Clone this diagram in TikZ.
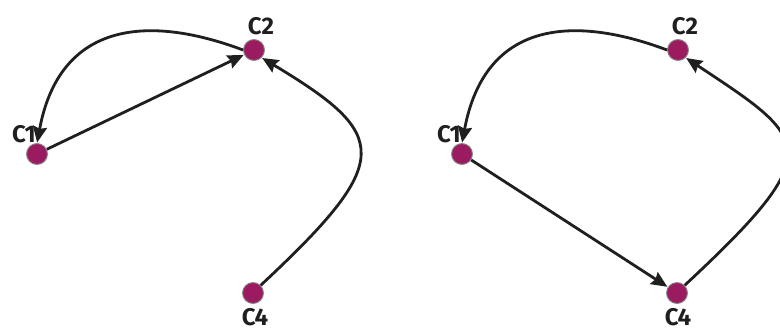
\documentclass[tikz,border=0pt]{standalone}
\usepackage{fontspec}
\setmainfont{Fira Sans}
\usetikzlibrary{arrows.meta}
\definecolor{cnode}{HTML}{9B1B60}
\tikzstyle{vert}=[circle, draw=black!45, line width=0.9pt, fill=cnode, inner sep=0pt, minimum size=21pt]
\tikzstyle{lab}=[font=\fontsize{24}{24}\selectfont\bfseries, text=black!88, inner sep=0pt, anchor=base]
\tikzset{edge/.style={line width=2.8pt, black!88, -{Stealth[length=16pt,width=14pt,inset=2pt]}, shorten >=0.5pt}}

\begin{document}
\begin{tikzpicture}[x=1pt,y=-1pt]
    \useasboundingbox (0,0) rectangle (780,330);
    \clip (0,0) rectangle (780,330);
    % left graph
    \node[vert] (a1) at (37,154) {};
    \node[vert] (a2) at (254,50) {};
    \node[vert] (a4) at (253,293) {};
    \node[lab] (la1) at (24,142) {C1};
    \node[lab] (la2) at (261,34) {C2};
    \node[lab] (la4) at (255,325) {C4};
    \draw[edge] (a1) -- (a2);
    \draw[edge] (a2.west) .. controls (150,15) and (60,20) .. (a1.north);
    \draw[edge] (a4.north east) .. controls (395,160) and (390,135) .. (a2.south east);
    % right graph
    \node[vert] (b1) at (462,154) {};
    \node[vert] (b2) at (678,50) {};
    \node[vert] (b4) at (677,293) {};
    \node[lab] (lb1) at (449,142) {C1};
    \node[lab] (lb2) at (685,34) {C2};
    \node[lab] (lb4) at (678,325) {C4};
    \draw[edge] (b1) -- (b4);
    \draw[edge] (b2.west) .. controls (574,15) and (485,20) .. (b1.north);
    \draw[edge] (b4.north east) .. controls (830,150) and (810,140) .. (b2.south east);
\end{tikzpicture}
\end{document}
